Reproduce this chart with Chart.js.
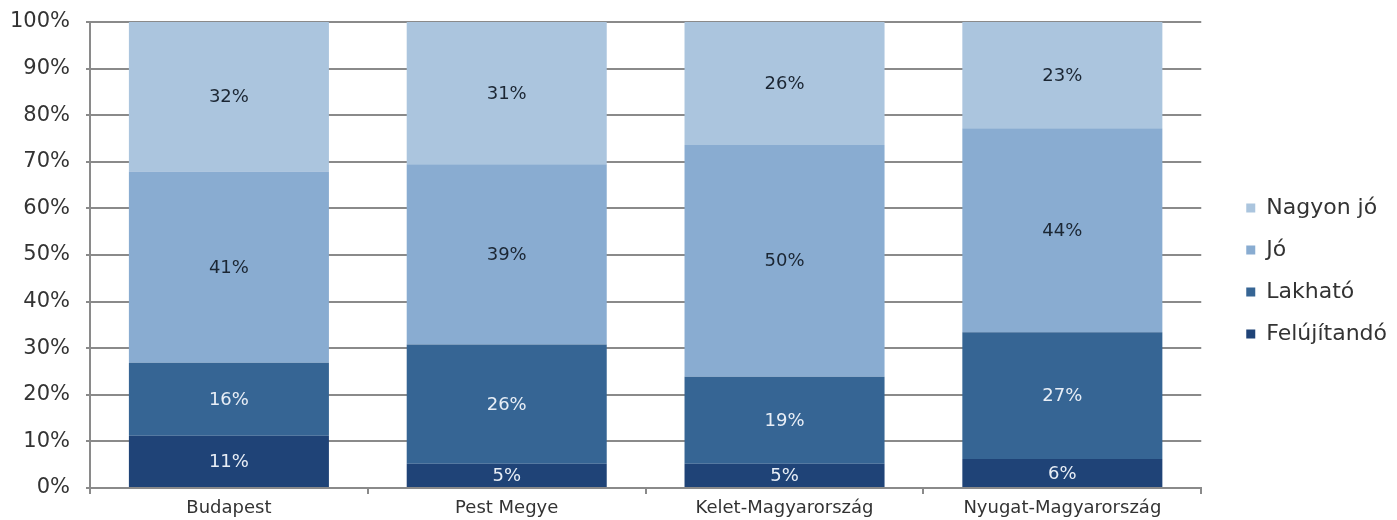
<!DOCTYPE html>
<html>
<head>
<meta charset="utf-8">
<script src="https://cdn.jsdelivr.net/npm/chart.js@4"></script>
<style>
  html, body { margin: 0; padding: 0; background: #fff; }
  #wrap { width: 1397px; height: 520px; }
</style>
</head>
<body>
<div id="wrap"><canvas id="chart" width="1397" height="520"></canvas></div>
<script>
const regions = ['Budapest', 'Pest Megye', 'Kelet-Magyarország', 'Nyugat-Magyarország'];
const felujitando = [11.2, 5.2, 5.2, 6.2];
const lakhato = [15.7, 25.6, 18.7, 27.2];
const jo = [41.0, 38.7, 49.7, 43.8];
const nagyonJo = [32.1, 30.5, 26.4, 22.8];
const yTicks = [0, 10, 20, 30, 40, 50, 60, 70, 80, 90, 100];

const fontFamily = '"DejaVu Sans", sans-serif';

// writes the rounded percentage in the middle of every segment
const segmentLabels = {
    id: 'segmentLabels',
    afterDatasetsDraw(chart) {
        const ctx = chart.ctx;
        ctx.save();
        ctx.font = '18px ' + fontFamily;
        ctx.textAlign = 'center';
        ctx.textBaseline = 'middle';
        chart.data.datasets.forEach((ds, i) => {
            const meta = chart.getDatasetMeta(i);
            ctx.fillStyle = ds.labelColor;
            meta.data.forEach((bar, j) => {
                const mid = (bar.y + bar.base) / 2;
                ctx.fillText(Math.round(ds.data[j]) + '%', bar.x, mid + 1);
            });
        });
        ctx.restore();
    }
};

// leave a wider gap between the plot and the legend, and sit it a bit lower
const legendGap = 25;
const legendDrop = 11;
const legendSpacer = {
    id: 'legendSpacer',
    beforeInit(chart) {
        const legend = chart.legend;
        const fit = legend.fit;
        legend.fit = function () {
            fit.call(this);
            this.width += legendGap;
        };
    },
    afterLayout(chart) {
        chart.legend.left += legendGap;
        chart.legend.right += legendGap;
        chart.legend.top += legendDrop;
        chart.legend.bottom += legendDrop;
    }
};

new Chart(document.getElementById('chart'), {
    type: 'bar',
    data: {
        labels: regions,
        datasets: [
            { label: 'Felújítandó', data: felujitando, backgroundColor: '#1f4377', labelColor: '#e8eef6' },
            { label: 'Lakható', data: lakhato, backgroundColor: '#366594', labelColor: '#e8eef6' },
            { label: 'Jó', data: jo, backgroundColor: '#89acd1', labelColor: '#1b2633' },
            { label: 'Nagyon jó', data: nagyonJo, backgroundColor: '#abc5de', labelColor: '#1b2633' }
        ]
    },
    options: {
        responsive: false,
        animation: false,
        layout: { padding: { top: 0, left: 4, right: 0, bottom: 0 } },
        datasets: {
            bar: { categoryPercentage: 1, barPercentage: 0.72, borderWidth: 0 }
        },
        scales: {
            x: {
                stacked: true,
                afterFit(scale) { scale.height = 32; },
                grid: { display: true, drawOnChartArea: false, offset: true, color: '#8a8a8a', lineWidth: 2, tickLength: 6 },
                border: { color: '#8a8a8a', width: 2 },
                ticks: { color: '#333', font: { family: fontFamily, size: 18 }, padding: 4 }
            },
            y: {
                stacked: true,
                min: 0,
                max: 100,
                afterBuildTicks(axis) {
                    axis.ticks = yTicks.map(v => ({ value: v }));
                },
                afterFit(scale) {
                    scale.width = 86;
                    scale.paddingTop = 22;
                    scale.paddingBottom = 0;
                },
                grid: { color: '#8a8a8a', lineWidth: 2, tickLength: 4 },
                border: { color: '#8a8a8a', width: 2 },
                ticks: {
                    color: '#333',
                    font: { family: fontFamily, size: 21 },
                    padding: 16,
                    callback: v => v + '%'
                }
            }
        },
        plugins: {
            tooltip: { enabled: false },
            legend: {
                position: 'right',
                reverse: true,
                labels: {
                    color: '#333',
                    font: { family: fontFamily, size: 22 },
                    boxWidth: 9,
                    boxHeight: 9,
                    padding: 20
                }
            }
        }
    },
    plugins: [segmentLabels, legendSpacer]
});
</script>
</body>
</html>
